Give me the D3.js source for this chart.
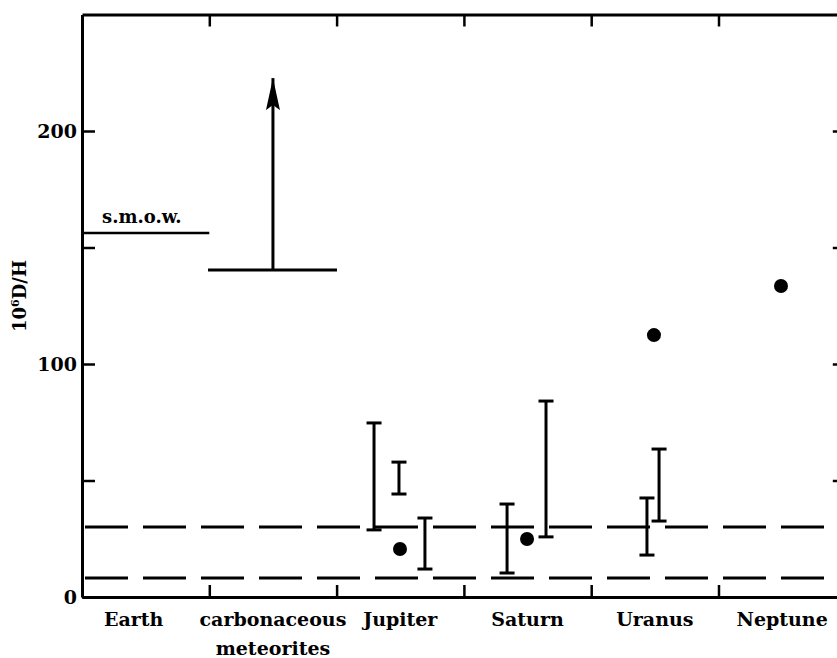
<!DOCTYPE html>
<html>
<head>
<meta charset="utf-8">
<script src="https://cdn.jsdelivr.net/npm/d3@7"></script>
<style>
  html, body { margin: 0; padding: 0; background: #fff; }
  svg { display: block; }
  text { font-family: "DejaVu Serif", "Liberation Serif", serif; font-weight: bold; fill: #000; }
</style>
</head>
<body>
<svg id="chart" width="837" height="658"></svg>
<script>
// ---- data ----
const categories = ["Earth", "carbonaceous meteorites", "Jupiter", "Saturn", "Uranus", "Neptune"];
const yTickValues = [0, 50, 100, 150, 200];
const yTickLabels = [0, 100, 200];
// error-bar ranges: horizontal position in category units, low / high of 10^6 D/H
const barPos  = [2.294, 2.490, 2.694, 3.339, 3.645, 4.438, 4.533];
const barLow  = [28.8, 44.2, 12.0, 10.3, 25.8, 18.0, 32.6];
const barHigh = [74.7, 57.9, 33.9, 39.9, 84.1, 42.5, 63.5];
// single measurements
const dotPos   = [2.498, 3.496, 4.493, 5.491];
const dotValue = [20.6, 24.9, 112.4, 133.5];
// reference levels
const protosolarLevels = [30.0, 8.2];          // dashed lines
const smow = { from: 0, to: 1, value: 156.2, label: "s.m.o.w." };
const meteorites = { from: 0.99, to: 2.003, value: 140.3, limit: 222.7, pos: 1.5 };

// ---- layout ----
const svg = d3.select("#chart");
const mLeft = 82, mRight = 845.8, mTop = 14.5, mBottom = 597;
const x = d3.scaleLinear().domain([0, 6]).range([mLeft, mRight]);
const y = d3.scaleLinear().domain([0, 250]).range([mBottom, mTop]);

const axisStroke = 3;

function styleAxis(g) {
  g.select(".domain").attr("stroke", "#000").attr("stroke-width", axisStroke);
  g.selectAll(".tick line").attr("stroke", "#000").attr("stroke-width", 2.5);
}

// left axis
svg.append("g")
  .attr("transform", `translate(${mLeft},0)`)
  .call(d3.axisLeft(y).tickValues(yTickValues).tickSize(-13).tickSizeOuter(0).tickPadding(5)
    .tickFormat(d => yTickLabels.includes(d) ? d : ""))
  .call(styleAxis)
  .call(g => g.selectAll("text").attr("font-size", 19).attr("font-family", "DejaVu Serif").attr("font-weight", "bold"));

// right axis
svg.append("g")
  .attr("transform", `translate(${mRight},0)`)
  .call(d3.axisRight(y).tickValues(yTickValues.slice(1)).tickSize(-13).tickSizeOuter(0).tickFormat(""))
  .call(styleAxis);

// bottom axis
svg.append("g")
  .attr("transform", `translate(0,${mBottom})`)
  .call(d3.axisBottom(x).tickValues(d3.range(1, 6)).tickSize(-12).tickSizeOuter(0).tickFormat(""))
  .call(styleAxis);

// top axis
svg.append("g")
  .attr("transform", `translate(0,${mTop})`)
  .call(d3.axisTop(x).tickValues(d3.range(1, 6)).tickSize(-12).tickSizeOuter(0).tickFormat(""))
  .call(styleAxis);

// category labels
const catG = svg.append("g");
categories.forEach((c, i) => {
  const lines = c.split(" ");
  const cx = x(i + 0.5) - (i === 0 ? 12 : 0);
  const t = catG.append("text")
    .attr("x", cx)
    .attr("y", 626)
    .attr("text-anchor", "middle")
    .attr("font-size", 19);
  lines.forEach((l, j) => {
    t.append("tspan").attr("x", cx).attr("dy", j === 0 ? 0 : 29).text(l);
  });
});

// y-axis title
const yt = svg.append("text")
  .attr("transform", "translate(26,296) rotate(-90)")
  .attr("text-anchor", "middle")
  .attr("font-size", 18);
yt.append("tspan").text("10");
yt.append("tspan").attr("font-size", 11).attr("dy", -7).text("6");
yt.append("tspan").attr("dy", 7).text("D/H");

// dashed protosolar lines
svg.append("g").selectAll("line")
  .data(protosolarLevels).join("line")
  .attr("x1", x(0)).attr("x2", 837)
  .attr("y1", d => y(d)).attr("y2", d => y(d))
  .attr("stroke", "#000").attr("stroke-width", 3)
  .attr("stroke-dasharray", "43,15").attr("stroke-dashoffset", 55);

// SMOW line + label
svg.append("line")
  .attr("x1", x(smow.from)).attr("x2", x(smow.to))
  .attr("y1", y(smow.value)).attr("y2", y(smow.value))
  .attr("stroke", "#000").attr("stroke-width", 2.5);
svg.append("text")
  .attr("x", x(smow.from) + 20).attr("y", y(smow.value) - 10)
  .attr("font-size", 18).text(smow.label);

// carbonaceous meteorites lower limit + arrow
const defs = svg.append("defs");
defs.append("marker")
  .attr("id", "arrow")
  .attr("markerUnits", "userSpaceOnUse")
  .attr("viewBox", "0 -7 32 14")
  .attr("refX", 32).attr("refY", 0)
  .attr("markerWidth", 32).attr("markerHeight", 14)
  .attr("orient", "auto")
  .append("path")
  .attr("d", "M32,0 L0,-7 L5,0 L0,7 Z")
  .attr("fill", "#000");

svg.append("line")
  .attr("x1", x(meteorites.from)).attr("x2", x(meteorites.to))
  .attr("y1", y(meteorites.value)).attr("y2", y(meteorites.value))
  .attr("stroke", "#000").attr("stroke-width", 3);
svg.append("line")
  .attr("x1", x(meteorites.pos)).attr("x2", x(meteorites.pos))
  .attr("y1", y(meteorites.value)).attr("y2", y(meteorites.limit))
  .attr("stroke", "#000").attr("stroke-width", 3)
  .attr("marker-end", "url(#arrow)");

// error bars
const capW = 15;
const bars = svg.append("g").selectAll("g")
  .data(barPos.map((p, i) => ({ p, lo: barLow[i], hi: barHigh[i] })))
  .join("g")
  .attr("stroke", "#000").attr("stroke-width", 3);
bars.append("line")
  .attr("x1", d => x(d.p)).attr("x2", d => x(d.p))
  .attr("y1", d => y(d.lo)).attr("y2", d => y(d.hi));
bars.append("line")
  .attr("x1", d => x(d.p) - capW / 2).attr("x2", d => x(d.p) + capW / 2)
  .attr("y1", d => y(d.hi)).attr("y2", d => y(d.hi));
bars.append("line")
  .attr("x1", d => x(d.p) - capW / 2).attr("x2", d => x(d.p) + capW / 2)
  .attr("y1", d => y(d.lo)).attr("y2", d => y(d.lo));

// dots
svg.append("g").selectAll("circle")
  .data(dotPos.map((p, i) => ({ p, v: dotValue[i] })))
  .join("circle")
  .attr("cx", d => x(d.p)).attr("cy", d => y(d.v))
  .attr("r", 7).attr("fill", "#000");
</script>
</body>
</html>
